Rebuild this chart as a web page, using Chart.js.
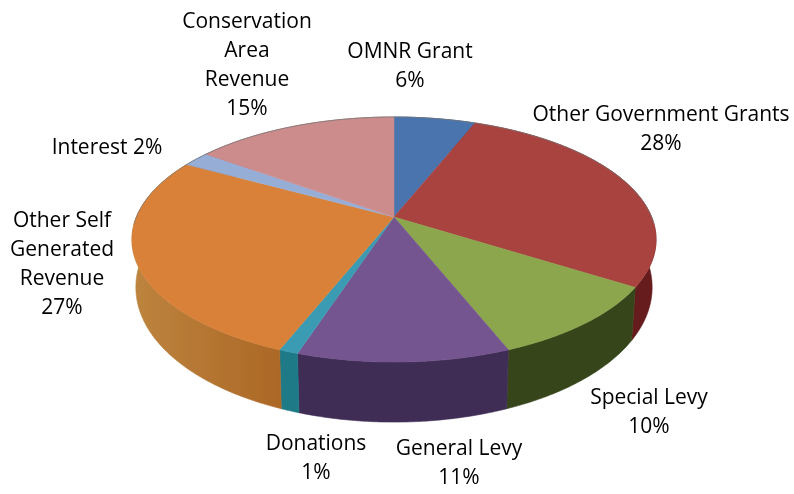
<!DOCTYPE html>
<html>
<head>
<meta charset="utf-8">
<style>
  body { margin: 0; background: #fff; }
</style>
<script src="https://cdn.jsdelivr.net/npm/chart.js@4"></script>
</head>
<body>
<canvas id="fundingPie" width="794" height="494"></canvas>
<script>
let labels = ["OMNR Grant", "Other Government Grants", "Special Levy", "General Levy", "Donations", "Other Self Generated Revenue", "Interest", "Conservation Area Revenue"];
let shares = [6, 28, 10, 11, 1, 27, 2, 15];
let topColors = ["#4a74ae", "#a84340", "#8ba64c", "#75558f", "#3a9bb3", "#d98138", "#96aed6", "#cc8c8c"];
let wallColors = ["#2f4a70", "#661c1c", "#37451b", "#3f2d55", "#1f7a88", "#b0691f", "#5f7090", "#855a5a"];

// label lines, the percentage gets added below them
let labelLines = [
  ["OMNR Grant"],
  ["Other Government Grants"],
  ["Special Levy"],
  ["General Levy"],
  ["Donations"],
  ["Other Self", "Generated", "Revenue"],
  ["Interest"],
  ["Conservation", "Area", "Revenue"],
];
let labelSpots = [
  { x: 410, y: 52 },
  { x: 661, y: 115 },
  { x: 649, y: 398 },
  { x: 459, y: 449 },
  { x: 316, y: 444 },
  { x: 62, y: 221 },
  { x: 107, y: 148 },
  { x: 247, y: 22 },
];

const lineGap = 29;

// pie plane seen in perspective
const view = { cx: 394, cy: 217, rx: 257.6, ry: 118.4, persp: 0.184 };

function project(angle, lower) {
  // angle as Chart.js gives it, -PI/2 is the top of the pie
  let u = Math.cos(angle);
  let v = Math.sin(angle);
  let s = 1 / (1 - view.persp * v);
  let x = view.rx * u * s;
  let y = view.ry * v * s;
  if (lower) {
    x = x * 0.985;
    y = y + 45 + 15 * v;
  }
  return { x: view.cx + x, y: view.cy + y };
}

function traceRim(ctx, start, end, lower) {
  let steps = Math.max(2, Math.ceil(Math.abs(end - start) / 0.01));
  for (let i = 0; i <= steps; i++) {
    let p = project(start + ((end - start) * i) / steps, lower);
    ctx.lineTo(p.x, p.y);
  }
}

const perspectivePie = {
  id: "perspectivePie",
  beforeDatasetsDraw(chart) {
    let ctx = chart.ctx;
    let arcs = chart.getDatasetMeta(0).data;
    ctx.save();

    //walls first, the top face covers the back ones
    arcs.forEach((arc, i) => {
      let fill = wallColors[i];
      if (i === 5) {
        fill = ctx.createLinearGradient(130, 0, 320, 0);
        fill.addColorStop(0, "#bd853f");
        fill.addColorStop(1, "#a8601f");
      }
      ctx.fillStyle = fill;
      ctx.strokeStyle = fill;
      ctx.lineWidth = 0.6;
      ctx.beginPath();
      traceRim(ctx, arc.startAngle, arc.endAngle, false);
      traceRim(ctx, arc.endAngle, arc.startAngle, true);
      ctx.closePath();
      ctx.fill();
      ctx.stroke();
    });

    arcs.forEach((arc, i) => {
      ctx.fillStyle = topColors[i];
      ctx.strokeStyle = topColors[i];
      ctx.lineWidth = 0.5;
      ctx.beginPath();
      ctx.moveTo(view.cx, view.cy);
      traceRim(ctx, arc.startAngle, arc.endAngle, false);
      ctx.closePath();
      ctx.fill();
      ctx.stroke();
    });

    //thin grey edge along the back
    ctx.strokeStyle = "rgba(120,120,120,0.7)";
    ctx.lineWidth = 1;
    ctx.beginPath();
    traceRim(ctx, Math.PI * 0.98, Math.PI * 2.02, false);
    ctx.stroke();

    ctx.restore();
    return false;
  },
  afterDraw(chart) {
    let ctx = chart.ctx;
    ctx.save();
    ctx.fillStyle = "#000";
    ctx.font = '21px "Open Sans"';
    ctx.textAlign = "center";
    ctx.textBaseline = "middle";
    shares.forEach((share, i) => {
      let lines = labelLines[i].slice();
      if (labels[i] === "Interest") {
        lines[0] = lines[0] + " " + share + "%";
      } else {
        lines.push(share + "%");
      }
      lines.forEach((line, n) => {
        ctx.fillText(line, labelSpots[i].x, labelSpots[i].y + n * lineGap);
      });
    });
    ctx.restore();
  },
};

new Chart(document.querySelector("#fundingPie"), {
  type: "pie",
  data: {
    labels: labels,
    datasets: [
      {
        data: shares,
        backgroundColor: topColors,
        borderWidth: 0,
      },
    ],
  },
  options: {
    responsive: false,
    animation: false,
    plugins: {
      legend: {
        display: false,
      },
      tooltip: {
        enabled: false,
      },
    },
  },
  plugins: [perspectivePie],
});
</script>
</body>
</html>
